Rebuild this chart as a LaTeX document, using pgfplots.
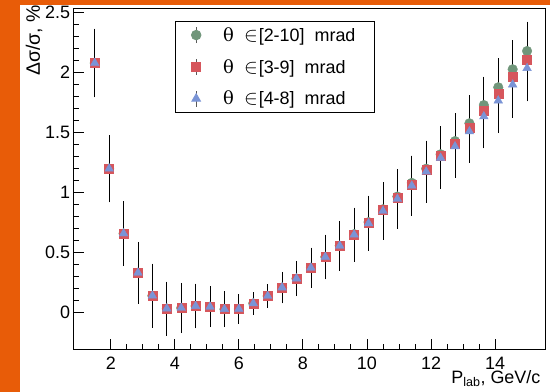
\documentclass[border=0pt]{standalone}
\usepackage{pgfplots}
\pgfplotsset{compat=1.18}
\usepackage{pgfplotstable}
\usepackage{fontspec}
\setmainfont{Liberation Sans}
\newfontfamily\thetafont{DejaVu Serif}
\definecolor{rootorange}{RGB}{232,92,8}
\definecolor{mgreen}{RGB}{112,150,122}
\definecolor{mred}{RGB}{214,86,92}
\definecolor{mblue}{RGB}{122,148,214}

\pgfplotstableread{
x      g      r      b      eg     er     eb
1.50   2.080  2.080  2.080  0.238  0.257  0.270
1.95   1.200  1.200  1.200  0.231  0.250  0.263
2.40   0.660  0.660  0.660  0.224  0.241  0.254
2.85   0.333  0.333  0.333  0.211  0.228  0.240
3.30   0.142  0.142  0.142  0.220  0.238  0.250
3.75   0.035  0.035  0.035  0.183  0.198  0.208
4.20   0.040  0.040  0.040  0.169  0.182  0.192
4.65   0.056  0.056  0.056  0.150  0.162  0.170
5.10   0.050  0.050  0.050  0.135  0.145  0.153
5.55   0.030  0.030  0.030  0.116  0.125  0.132
6.00   0.032  0.032  0.032  0.094  0.102  0.107
6.45   0.078  0.078  0.078  0.069  0.074  0.078
6.90   0.140  0.140  0.140  0.070  0.076  0.080
7.35   0.210  0.210  0.210  0.101  0.109  0.115
7.80   0.285  0.285  0.285  0.114  0.124  0.130
8.25   0.375  0.375  0.375  0.132  0.143  0.150
8.70   0.465  0.465  0.465  0.150  0.162  0.170
9.15   0.558  0.558  0.558  0.167  0.181  0.190
9.60   0.655  0.653  0.650  0.185  0.200  0.210
10.05  0.755  0.750  0.745  0.187  0.202  0.213
10.50  0.862  0.855  0.848  0.195  0.211  0.222
10.95  0.968  0.958  0.948  0.202  0.219  0.230
11.40  1.082  1.070  1.058  0.207  0.223  0.235
11.85  1.200  1.190  1.175  0.211  0.228  0.240
12.30  1.320  1.310  1.290  0.211  0.228  0.240
12.75  1.430  1.410  1.385  0.216  0.233  0.245
13.20  1.578  1.545  1.510  0.216  0.233  0.245
13.65  1.730  1.685  1.635  0.220  0.238  0.250
14.10  1.878  1.828  1.767  0.224  0.242  0.255
14.55  2.028  1.970  1.900  0.227  0.245  0.258
15.00  2.180  2.110  2.037  0.229  0.247  0.260
}\data

\newcommand{\thetain}{{\thetafont θ}\hspace{10bp}{\fontsize{22}{22}\selectfont$\in$}\hspace{1bp}}

\begin{document}
\begin{tikzpicture}
\useasboundingbox (0bp,0bp) rectangle (550bp,392bp);
\fill[white] (0bp,0bp) rectangle (550bp,392bp);
\fill[rootorange] (0bp,0bp) rectangle (20bp,392bp);
\fill[rootorange] (0bp,387bp) rectangle (550bp,392bp);
\begin{axis}[
  at={(73.3bp,42bp)}, anchor=south west,
  scale only axis, width=471.7bp, height=341bp,
  xmin=0.83, xmax=15.56, ymin=-0.31, ymax=2.53,
  xtick={2,4,...,14}, ytick={0,0.5,1,1.5,2,2.5},
  minor x tick num=3, minor y tick num=4,
  tick pos=left, tick align=inside,
  major tick length=11bp, minor tick length=6bp,
  every tick/.style={black, line width=0.9bp},
  axis line style={black, line width=1bp},
  /pgf/number format/assume math mode=true,
  ticklabel style={font=\fontsize{18}{20}\selectfont},
  yticklabel style={inner sep=0pt, xshift=-3bp},
  xticklabel style={inner sep=0pt, yshift=-6.5bp},
  xlabel={P\textsubscript{lab}, GeV/c},
  xlabel style={at={(axis description cs:0.9906,-0.098)}, anchor=base east, inner sep=0pt, font=\fontsize{18}{20}\selectfont},
  ylabel={Δσ/σ, \%},
  ylabel style={at={(axis description cs:-0.0706,1.0117)}, anchor=base east, inner sep=0pt, font=\fontsize{19.5}{22}\selectfont},
  legend style={at={(axis description cs:0.2156,0.9648)}, anchor=north west,
    draw=black, line width=0.8bp, fill=white,
    font=\fontsize{18}{21}\selectfont,
    inner xsep=16bp, inner ysep=3bp, row sep=10.5bp,
    nodes={inner sep=3bp}},
  legend cell align=left,
  legend image code/.code={
    \path[draw=none, fill=none] (0bp,0bp) -- (24bp,0bp);
    \draw[black!65, line width=0.8bp] (0bp,-8bp) -- (0bp,8bp);
    \draw[#1] plot coordinates {(0bp,0bp)};
  },
]
\addplot[only marks, mark=*, mark size=4.8bp, mgreen, mark options={draw=mgreen, fill=mgreen}] table[x=x, y=g] {\data};
\addlegendentry{\thetain[2-10]\hspace{5bp} mrad}
\addplot[only marks, mark=square*, mark size=4.5bp, mred, mark options={draw=mred, fill=mred}] table[x=x, y=r] {\data};
\addlegendentry{\thetain[3-9]\hspace{5bp} mrad}
\addplot[only marks, mark=triangle*, mark size=5bp, mblue, mark options={draw=mblue, fill=mblue}] table[x=x, y=b] {\data};
\addlegendentry{\thetain[4-8]\hspace{5bp} mrad}

\addplot[forget plot, draw=none, mark=none, error bars/.cd, y dir=both, y explicit,
  error mark=-, error mark options={black, mark size=2bp, line width=0.8bp},
  error bar style={black, line width=0.8bp}]
  table[x=x, y=g, y error=eg] {\data};
\addplot[forget plot, draw=none, mark=none, error bars/.cd, y dir=both, y explicit,
  error mark=-, error mark options={black, mark size=2bp, line width=0.8bp},
  error bar style={black, line width=0.8bp}]
  table[x=x, y=r, y error=er] {\data};
\addplot[forget plot, draw=none, mark=none, error bars/.cd, y dir=both, y explicit,
  error mark=-, error mark options={black, mark size=2bp, line width=0.8bp},
  error bar style={black, line width=0.8bp}]
  table[x=x, y=b, y error=eb] {\data};
\end{axis}
\end{tikzpicture}
\end{document}
